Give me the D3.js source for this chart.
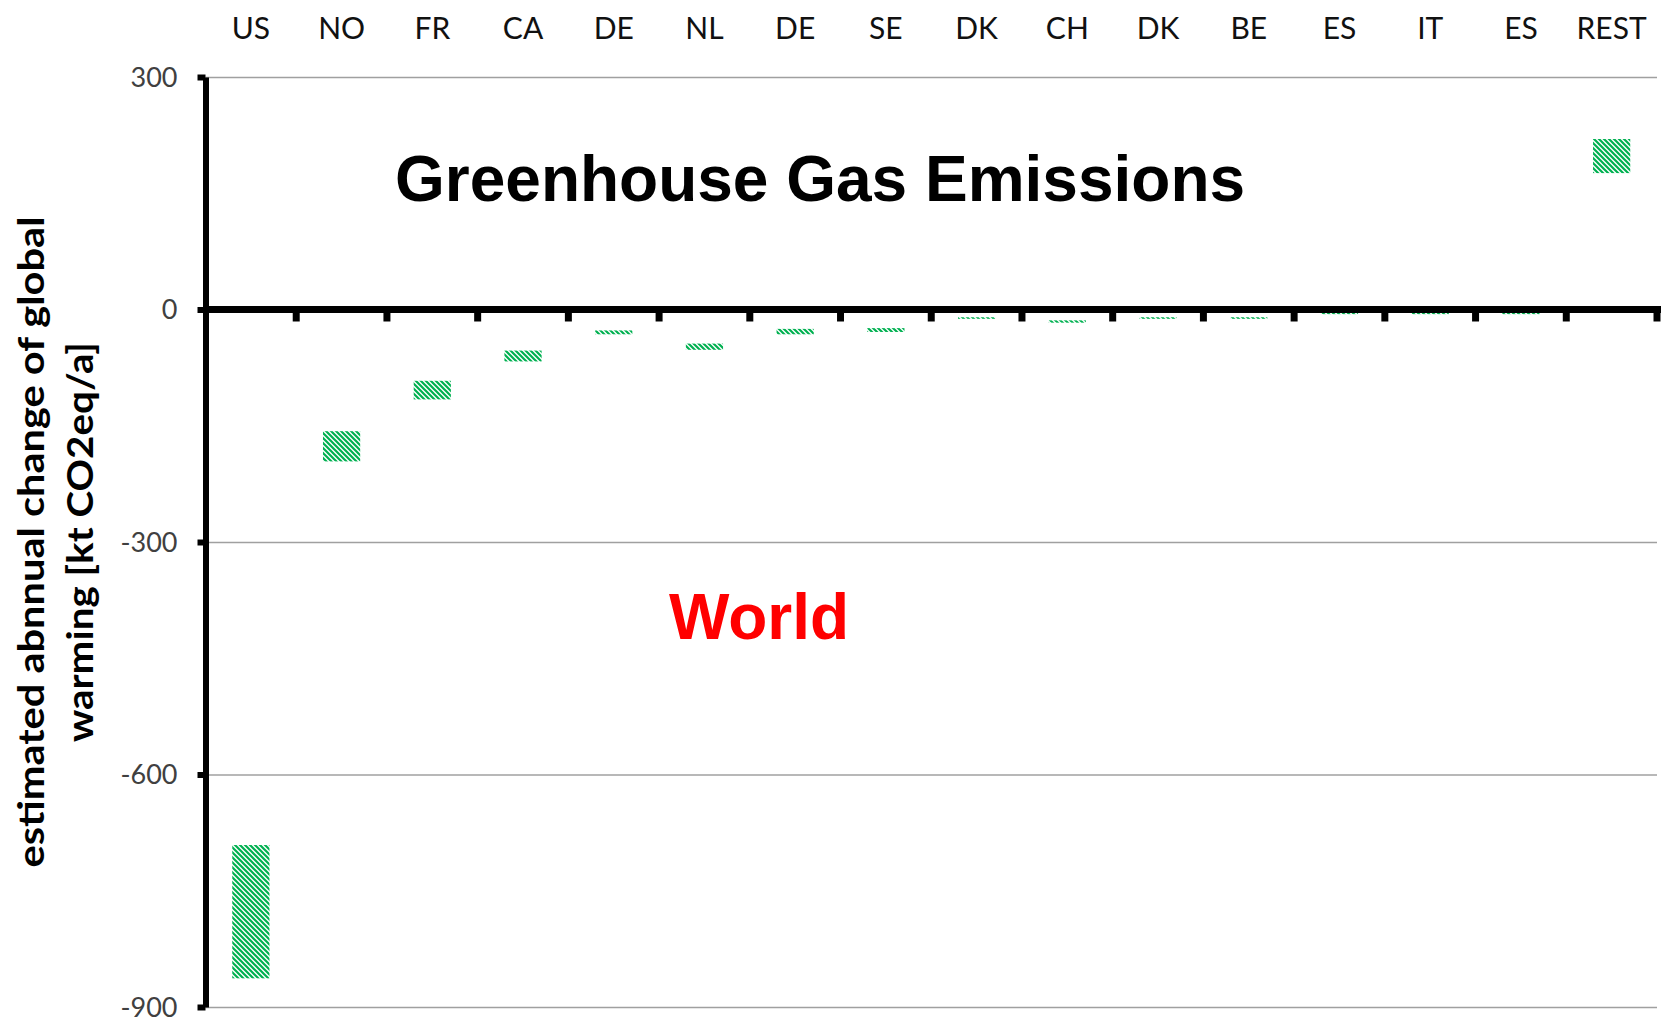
<!DOCTYPE html>
<html lang="en">
<head>
<meta charset="UTF-8">
<title>Greenhouse Gas Emissions</title>
<script src="https://cdn.jsdelivr.net/npm/d3@7"></script>
<style>
    body { margin: 0; background: #fff; }
    text { font-family: Lato, "Open Sans", sans-serif; }
    .big { font-family: "Liberation Sans", Arial, sans-serif; font-weight: bold; }
</style>
</head>
<body>
<div id="chart"></div>
<script>
    // countries, in the order of the bars
    const countries = ["US", "NO", "FR", "CA", "DE", "NL", "DE", "SE", "DK", "CH", "DK", "BE", "ES", "IT", "ES", "REST"];
    // low and high end of each floating bar [kt CO2eq/a]
    const lowValues  = [-863, -196, -116, -67, -32, -52, -32, -29, -12, -17, -12, -12, -6, -6, -6, 176];
    const highValues = [-691, -157,  -92, -53, -27, -44, -25, -24, -10, -14, -10, -10, -3, -3, -3, 220];
    const yTicks = [300, 0, -300, -600, -900];

    const W = 1661, H = 1023;
    const margin = {top: 77, right: 4, bottom: 16, left: 205.5};

    const svg = d3.select("#chart").append("svg")
        .attr("width", W)
        .attr("height", H);

    const idx = d3.range(countries.length);
    const x = d3.scaleBand(idx, [margin.left, W - margin.right]);
    const y = d3.scaleLinear([-900, 300], [H - margin.bottom, margin.top]);

    const green = "#00b050";

    // hatch fill
    const pat = svg.append("defs").append("pattern")
        .attr("id", "hatch")
        .attr("patternUnits", "userSpaceOnUse")
        .attr("width", 5)
        .attr("height", 5);
    pat.append("path")
        .attr("d", "M-1,-1L6,6M-1,4L1,6M4,-1L6,1")
        .attr("stroke", green)
        .attr("stroke-width", 2.2);

    // grid lines
    svg.append("g")
        .attr("transform", "translate(" + margin.left + ",0)")
        .call(d3.axisRight(y)
            .tickValues(yTicks.filter(d => d !== 0))
            .tickSize(x.range()[1] - margin.left)
            .tickFormat(""))
        .call(g => g.select(".domain").remove())
        .call(g => g.selectAll("line")
            .attr("stroke", "#a0a0a0")
            .attr("stroke-width", 1.5));

    // bars
    const barFrac = 0.41;
    svg.append("g")
        .selectAll("rect")
        .data(idx)
        .join("rect")
        .attr("x", i => x(i) + x.bandwidth() * (1 - barFrac) / 2)
        .attr("width", x.bandwidth() * barFrac)
        .attr("y", i => y(highValues[i]))
        .attr("height", i => y(lowValues[i]) - y(highValues[i]))
        .attr("fill", "url(#hatch)");

    // category labels on top
    svg.append("g")
        .attr("transform", "translate(0," + margin.top + ")")
        .call(d3.axisTop(x)
            .tickSize(0)
            .tickPadding(38)
            .tickFormat(i => countries[i]))
        .call(g => g.select(".domain").remove())
        .call(g => g.selectAll("text")
            .attr("font-size", 30)
            .attr("fill", "#111"));

    // zero line with ticks at category boundaries
    const y0 = y(0);
    const zero = svg.append("g");
    zero.selectAll("line.tk")
        .data(idx.slice(1).map(i => x(i)).concat([x.range()[1]]))
        .join("line")
        .attr("class", "tk")
        .attr("x1", d => d).attr("x2", d => d)
        .attr("y1", y0).attr("y2", y0 + 12)
        .attr("stroke", "#000")
        .attr("stroke-width", 7);
    zero.append("line")
        .attr("x1", margin.left).attr("x2", W)
        .attr("y1", y0).attr("y2", y0)
        .attr("stroke", "#000")
        .attr("stroke-width", 7);

    // y axis
    svg.append("g")
        .attr("transform", "translate(" + margin.left + ",0)")
        .call(d3.axisLeft(y)
            .tickValues(yTicks)
            .tickSize(8)
            .tickSizeOuter(0)
            .tickPadding(20)
            .tickFormat(d => String(d)))
        .call(g => g.select(".domain")
            .attr("stroke-width", 6))
        .call(g => g.selectAll(".tick line")
            .attr("stroke-width", 6))
        .call(g => g.selectAll(".tick text")
            .attr("font-size", 27)
            .attr("fill", "#404040")
            .attr("dy", "0.34em"));

    // y axis title
    const yt = svg.append("text")
        .attr("transform", "translate(0," + ((margin.top + H - margin.bottom) / 2) + ") rotate(-90)")
        .attr("text-anchor", "middle")
        .attr("font-weight", "bold")
        .attr("font-size", 36);
    yt.append("tspan").attr("x", 0).attr("y", 44)
        .attr("textLength", 651).attr("lengthAdjust", "spacingAndGlyphs")
        .text("estimated abnnual change of global");
    yt.append("tspan").attr("x", 0).attr("y", 93)
        .attr("textLength", 400).attr("lengthAdjust", "spacingAndGlyphs")
        .text("warming [kt CO2eq/a]");

    // annotations
    svg.append("text")
        .attr("class", "big")
        .attr("x", 395).attr("y", 201)
        .attr("font-size", 64)
        .text("Greenhouse Gas Emissions");

    svg.append("text")
        .attr("class", "big")
        .attr("x", 669).attr("y", 639)
        .attr("font-size", 64)
        .attr("fill", "#ff0000")
        .text("World");
</script>
</body>
</html>
